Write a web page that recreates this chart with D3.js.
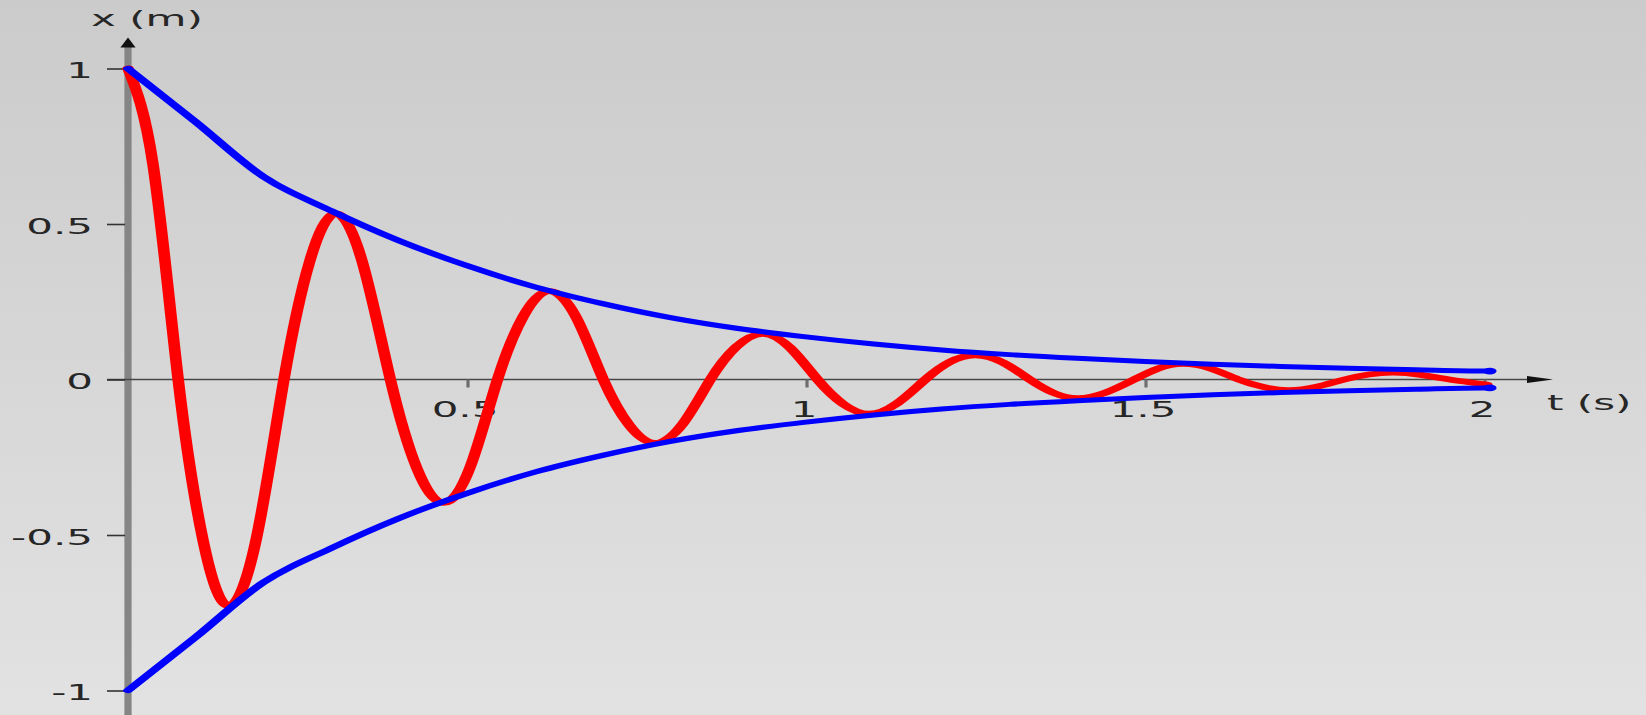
<!DOCTYPE html>
<html>
<head>
<meta charset="utf-8">
<script src="https://cdn.jsdelivr.net/npm/d3@7/dist/d3.min.js"></script>
<style>
  html, body { margin: 0; padding: 0; background: #d6d6d6; }
  svg { display: block; }
  text { font-family: "DejaVu Sans", Verdana, sans-serif; fill: #262626; }
</style>
</head>
<body>
<svg id="chart" width="1646" height="715"></svg>
<script>
// Damped oscillation: displacement x(t) and its decaying envelope.
const redT = [0, 0.037, 0.074, 0.111, 0.148, 0.189, 0.230, 0.268, 0.306, 0.346,
              0.387, 0.426, 0.465, 0.505, 0.545, 0.583, 0.621, 0.661, 0.701, 0.739,
              0.777, 0.818, 0.859, 0.897, 0.936, 0.976, 1.017, 1.055, 1.093, 1.134,
              1.176, 1.212, 1.249, 1.29, 1.330, 1.365, 1.401, 1.442, 1.484, 1.52,
              1.556, 1.597, 1.638, 1.674, 1.711, 1.752, 1.794, 1.83, 1.866, 1.907,
              1.949, 2.004];
const redX = [1, 0.69, 0, -0.52, -0.728, -0.515, 0, 0.38, 0.533, 0.375,
              0, -0.285, -0.397, -0.28, 0, 0.203, 0.284, 0.2, 0, -0.146,
              -0.204, -0.143, 0, 0.105, 0.147, 0.103, 0, -0.079, -0.110, -0.077,
              0, 0.056, 0.078, 0.055, 0, -0.043, -0.060, -0.042, 0, 0.036,
              0.050, 0.035, 0, -0.024, -0.034, -0.024, 0, 0.016, 0.022, 0.015,
              0, -0.016];

const envT     = [0, 0.1, 0.2, 0.3, 0.4, 0.5, 0.6, 0.7, 0.8, 0.9, 1.0,
                  1.1, 1.2, 1.3, 1.4, 1.5, 1.6, 1.7, 1.8, 1.9, 2.0, 2.01];
const envUpper = [1, 0.828, 0.652, 0.542, 0.446, 0.366, 0.298, 0.244, 0.199, 0.164, 0.137,
                  0.114, 0.095, 0.08, 0.068, 0.058, 0.049, 0.042, 0.036, 0.031, 0.027, 0.027];
const envLower = [-1, -0.828, -0.652, -0.542, -0.446, -0.366, -0.298, -0.244, -0.199, -0.164, -0.137,
                  -0.114, -0.095, -0.08, -0.068, -0.058, -0.049, -0.042, -0.036, -0.031, -0.027, -0.027];

const xTicks = [0.5, 1, 1.5, 2];
const xTickLabels = ["0.5", "1", "1.5", "2"];
const yTicks = [-1, -0.5, 0, 0.5, 1];
const yTickLabels = ["-1", "-0.5", "0", "0.5", "1"];
const xTitle = "t (s)";
const yTitle = "x (m)";

const W = 1646, H = 715;
const FONT = '"DejaVu Sans", Verdana, sans-serif';
const svg = d3.select("#chart");

// background gradient
const defs = svg.append("defs");
const grad = defs.append("linearGradient").attr("id", "bg")
  .attr("x1", 0).attr("y1", 0).attr("x2", 0).attr("y2", 1);
grad.append("stop").attr("offset", "0%").attr("stop-color", "#cbcbcb");
grad.append("stop").attr("offset", "100%").attr("stop-color", "#e2e2e2");
svg.append("rect").attr("width", W).attr("height", H).attr("fill", "url(#bg)");

// the drawing is laid out on a half-width canvas and stretched horizontally
const g = svg.append("g").attr("transform", "scale(2,1)");

const x = d3.scaleLinear().domain([0, 2]).range([64, 742]);
const y = d3.scaleLinear().domain([-1, 1]).range([690.5, 68.5]);

// vertical axis (thick grey) with arrow
g.append("line")
  .attr("x1", x(0)).attr("x2", x(0))
  .attr("y1", 46).attr("y2", H)
  .attr("stroke", "#858585").attr("stroke-width", 3.6);
g.append("path")
  .attr("d", `M${x(0)},37.5 L${x(0) - 3.8},47.5 L${x(0) + 3.8},47.5 Z`)
  .attr("fill", "#111");

// horizontal axis with arrow
g.append("line")
  .attr("x1", x(0) - 10.5).attr("x2", 766)
  .attr("y1", y(0)).attr("y2", y(0))
  .attr("stroke", "#474747").attr("stroke-width", 1.6);
g.append("path")
  .attr("d", `M776.5,${y(0)} L763.5,${y(0) - 3.4} L763.5,${y(0) + 3.4} Z`)
  .attr("fill", "#111");

// y ticks and labels
const yAxis = d3.axisLeft(y)
  .tickValues(yTicks)
  .tickFormat((d, i) => yTickLabels[i])
  .tickSize(9).tickPadding(7);
const gy = g.append("g").attr("transform", `translate(${x(0) - 1.5},0)`).call(yAxis);
gy.select(".domain").remove();
gy.selectAll(".tick line").attr("stroke", "#333").attr("stroke-width", 1.6);
gy.selectAll(".tick text")
  .attr("font-size", 21).attr("dy", "0.43em")
  .style("font-family", FONT).attr("fill", "#262626");

// x ticks and labels
const xAxis = d3.axisBottom(x)
  .tickValues(xTicks)
  .tickFormat((d, i) => xTickLabels[i])
  .tickSize(8).tickPadding(15);
const gx = g.append("g").attr("transform", `translate(0,${y(0)})`).call(xAxis);
gx.select(".domain").remove();
gx.selectAll(".tick line").attr("stroke", "#6e6e6e").attr("stroke-width", 1.6);
gx.selectAll(".tick text")
  .attr("font-size", 21).attr("dx", -1.5)
  .style("font-family", FONT).attr("fill", "#262626");

// axis titles
g.append("text").attr("x", 45.5).attr("y", 26.5)
  .attr("font-size", 21).text(yTitle);
g.append("text").attr("x", 773.5).attr("y", 410)
  .attr("font-size", 21).text(xTitle);

// displacement curve
const redLine = d3.line()
  .x((d, i) => x(redT[i]))
  .y(d => y(d))
  .curve(d3.curveNatural);
g.append("path")
  .datum(redX)
  .attr("d", redLine)
  .attr("fill", "none")
  .attr("stroke", "#ff0000")
  .attr("stroke-width", 5.8)
  .attr("stroke-linecap", "round")
  .attr("stroke-linejoin", "round");

// envelope curves
const envLine = d3.line()
  .x((d, i) => x(envT[i]))
  .y(d => y(d))
  .curve(d3.curveMonotoneX);
[envUpper, envLower].forEach(series => {
  g.append("path")
    .datum(series)
    .attr("d", envLine)
    .attr("fill", "none")
    .attr("stroke", "#0000ff")
    .attr("stroke-width", 5)
    .attr("stroke-linecap", "round")
    .attr("stroke-linejoin", "round");
  const last = series.length - 1;
  g.append("ellipse")
    .attr("cx", x(envT[last]) - 0.5)
    .attr("cy", y(series[last]))
    .attr("rx", 3.4).attr("ry", 3.4)
    .attr("fill", "#0000ff");
});
</script>
</body>
</html>
